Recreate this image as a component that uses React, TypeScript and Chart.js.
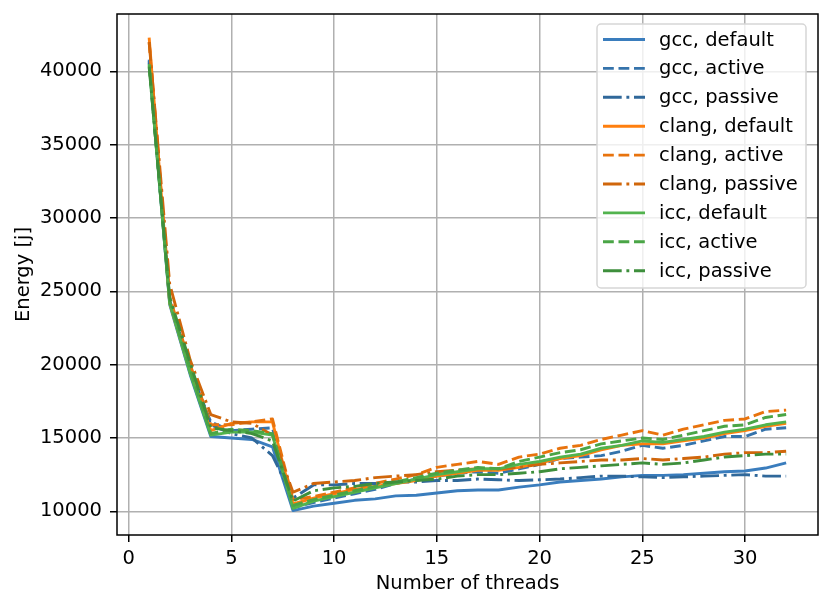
import { useEffect, useRef } from "react";
import { Chart, registerables } from "chart.js";

Chart.register(...registerables);

// thread counts on the x axis
const threads = [1, 2, 3, 4, 5, 6, 7, 8, 9, 10, 11, 12, 13, 14, 15, 16, 17, 18, 19, 20, 21, 22, 23, 24, 25, 26, 27, 28, 29, 30, 31, 32];

const gccDefault = [40800, 24100, 19300, 15100, 15000, 14900, 14400, 10050, 10350, 10550, 10750, 10850, 11050, 11100, 11250, 11400, 11450, 11450, 11650, 11800, 12000, 12100, 12200, 12350, 12450, 12450, 12500, 12600, 12700, 12750, 12950, 13300];
const gccActive = [40700, 24300, 19600, 16100, 15500, 15600, 15700, 10250, 10600, 10900, 11200, 11500, 11900, 12200, 12400, 12600, 12700, 12600, 12900, 13200, 13600, 13700, 13800, 14100, 14500, 14300, 14500, 14800, 15100, 15100, 15600, 15700];
const gccPassive = [40600, 24400, 19800, 15900, 15300, 15000, 13800, 10900, 11800, 11800, 11900, 11900, 12000, 12000, 12100, 12100, 12200, 12150, 12100, 12150, 12200, 12300, 12400, 12400, 12350, 12300, 12350, 12400, 12450, 12500, 12400, 12400];
const clangDefault = [42300, 24200, 19500, 15500, 16000, 16100, 16100, 10500, 10900, 11200, 11500, 11700, 11900, 12100, 12400, 12600, 12800, 12800, 13000, 13300, 13600, 13800, 14200, 14500, 14600, 14600, 14800, 15000, 15300, 15500, 15800, 16000];
const clangActive = [42000, 24600, 20000, 15900, 15900, 16100, 16300, 10800, 11000, 11300, 11600, 11900, 12200, 12500, 13000, 13200, 13400, 13200, 13700, 13900, 14300, 14500, 14900, 15200, 15500, 15200, 15600, 15900, 16200, 16300, 16800, 16900];
const clangPassive = [42000, 25500, 20300, 16600, 16100, 16000, 15200, 11300, 11900, 12000, 12100, 12300, 12400, 12500, 12700, 12800, 12900, 12900, 13000, 13200, 13300, 13400, 13500, 13500, 13600, 13500, 13600, 13700, 13900, 14000, 14000, 14100];
const iccDefault = [40500, 24200, 19400, 15200, 15400, 15400, 15200, 10200, 10700, 11000, 11300, 11600, 11900, 12200, 12500, 12700, 12900, 12900, 13200, 13400, 13700, 13900, 14300, 14500, 14800, 14700, 14900, 15100, 15400, 15600, 15900, 16100];
const iccActive = [40400, 24300, 19700, 15300, 15600, 15500, 15300, 10400, 10800, 11100, 11400, 11700, 12000, 12300, 12600, 12800, 13000, 12900, 13400, 13700, 14000, 14200, 14600, 14800, 15000, 14900, 15200, 15500, 15800, 15900, 16400, 16600];
const iccPassive = [40300, 24600, 20100, 15700, 15500, 15300, 14800, 10700, 11400, 11600, 11700, 11900, 12000, 12100, 12200, 12400, 12500, 12500, 12600, 12700, 12900, 13000, 13100, 13200, 13300, 13200, 13300, 13500, 13700, 13800, 13900, 13900];

const xTicks = [0, 5, 10, 15, 20, 25, 30];
const yTicks = [10000, 15000, 20000, 25000, 30000, 35000, 40000];

const LW = 2.9;
const DASHED = [10.8, 4.7];
const DASHDOT = [18.7, 4.7, 2.9, 4.7];
const FS = 19.5;

const series = [
  { label: "gcc, default", values: gccDefault, color: "#3a7dbd", dash: [] as number[] },
  { label: "gcc, active", values: gccActive, color: "#3573ab", dash: DASHED },
  { label: "gcc, passive", values: gccPassive, color: "#30689a", dash: DASHDOT },
  { label: "clang, default", values: clangDefault, color: "#ff7f0e", dash: [] as number[] },
  { label: "clang, active", values: clangActive, color: "#e8730d", dash: DASHED },
  { label: "clang, passive", values: clangPassive, color: "#d0660b", dash: DASHDOT },
  { label: "icc, default", values: iccDefault, color: "#52b34e", dash: [] as number[] },
  { label: "icc, active", values: iccActive, color: "#4aa546", dash: DASHED },
  { label: "icc, passive", values: iccPassive, color: "#3e8f3c", dash: DASHDOT },
];

const FONT = "'DejaVu Sans', sans-serif";

// spines on top of lines, like matplotlib
const framePlugin = {
  id: "frame",
  afterDatasetsDraw(chart: any) {
    const { ctx, chartArea: a } = chart;
    ctx.save();
    ctx.strokeStyle = "#000";
    ctx.lineWidth = 1.5;
    ctx.strokeRect(a.left, a.top, a.right - a.left, a.bottom - a.top);
    ctx.restore();
  },
};

const labelsPlugin = {
  id: "labels",
  afterDraw(chart: any) {
    const { ctx, chartArea: a } = chart;
    ctx.save();
    ctx.fillStyle = "#000";
    ctx.font = `${FS}px ${FONT}`;
    ctx.textAlign = "center";
    ctx.textBaseline = "middle";
    ctx.fillText("Number of threads", (a.left + a.right) / 2, 584);
    ctx.translate(24, (a.top + a.bottom) / 2);
    ctx.rotate(-Math.PI / 2);
    ctx.fillText("Energy [j]", 0, 0);
    ctx.restore();

    // legend box, upper right
    const bx = 597, by = 24, bw = 209, bh = 264, r = 4;
    ctx.save();
    ctx.beginPath();
    ctx.roundRect(bx, by, bw, bh, r);
    ctx.fillStyle = "rgba(255,255,255,0.8)";
    ctx.fill();
    ctx.strokeStyle = "#d6d6d6";
    ctx.lineWidth = 1.5;
    ctx.stroke();
    ctx.font = `${FS}px ${FONT}`;
    ctx.textAlign = "left";
    ctx.textBaseline = "middle";
    series.forEach((s, i) => {
      const y = 39.5 + i * 28.9;
      ctx.beginPath();
      ctx.setLineDash(s.dash);
      ctx.strokeStyle = s.color;
      ctx.lineWidth = LW;
      ctx.moveTo(603, y);
      ctx.lineTo(645, y);
      ctx.stroke();
      ctx.setLineDash([]);
      ctx.fillStyle = "#000";
      ctx.fillText(s.label, 659, y + 1);
    });
    ctx.restore();
  },
};

export default function App() {
  const chartRef = useRef<HTMLCanvasElement | null>(null);

  useEffect(() => {
    const canvas = chartRef.current;
    if (!canvas) return;
    const ctx = canvas.getContext("2d");
    if (!ctx) return;

    Chart.defaults.font.family = FONT;

    const chart = new Chart(ctx, {
      type: "line",
      data: {
        datasets: series.map((s, i) => ({
          label: s.label,
          data: threads.map((t, j) => ({ x: t, y: s.values[j] })),
          borderColor: s.color,
          backgroundColor: s.color,
          borderWidth: LW,
          borderDash: s.dash,
          borderJoinStyle: "round" as const,
          pointRadius: 0,
          tension: 0,
          fill: false,
          order: series.length - i,
        })),
      },
      options: {
        animation: false,
        responsive: false,
        events: [],
        layout: { padding: { top: 14, right: 12, left: 0, bottom: 0 } },
        plugins: {
          legend: { display: false },
          tooltip: { enabled: false },
        },
        scales: {
          x: {
            type: "linear",
            min: -0.565,
            max: 33.55,
            afterBuildTicks: (s: any) => {
              s.ticks = xTicks.map((v) => ({ value: v }));
            },
            afterFit: (s: any) => {
              s.height = 74;
              s.paddingLeft = 0;
              s.paddingRight = 0;
            },
            grid: { color: "#b0b0b0", lineWidth: 1.5, tickColor: "#000", tickLength: 7, tickWidth: 1.5 },
            border: { display: false },
            ticks: { color: "#000", font: { size: FS }, padding: 5, maxRotation: 0, autoSkip: false },
          },
          y: {
            type: "linear",
            min: 8385,
            max: 43915,
            afterBuildTicks: (s: any) => {
              s.ticks = yTicks.map((v) => ({ value: v }));
            },
            afterFit: (s: any) => {
              s.width = 117;
              s.paddingTop = 0;
              s.paddingBottom = 0;
            },
            grid: { color: "#b0b0b0", lineWidth: 1.5, tickColor: "#000", tickLength: 7, tickWidth: 1.5 },
            border: { display: false },
            ticks: { color: "#000", font: { size: FS }, padding: 8, autoSkip: false, callback: (v: any) => String(v) },
          },
        },
      },
      plugins: [framePlugin, labelsPlugin],
    });

    return () => {
      chart.destroy();
    };
  }, []);

  return (
    <div style={{ position: "fixed", left: 0, top: 0, width: 830, height: 609, background: "#fff" }}>
      <canvas ref={chartRef} width={830} height={609}></canvas>
    </div>
  );
}
